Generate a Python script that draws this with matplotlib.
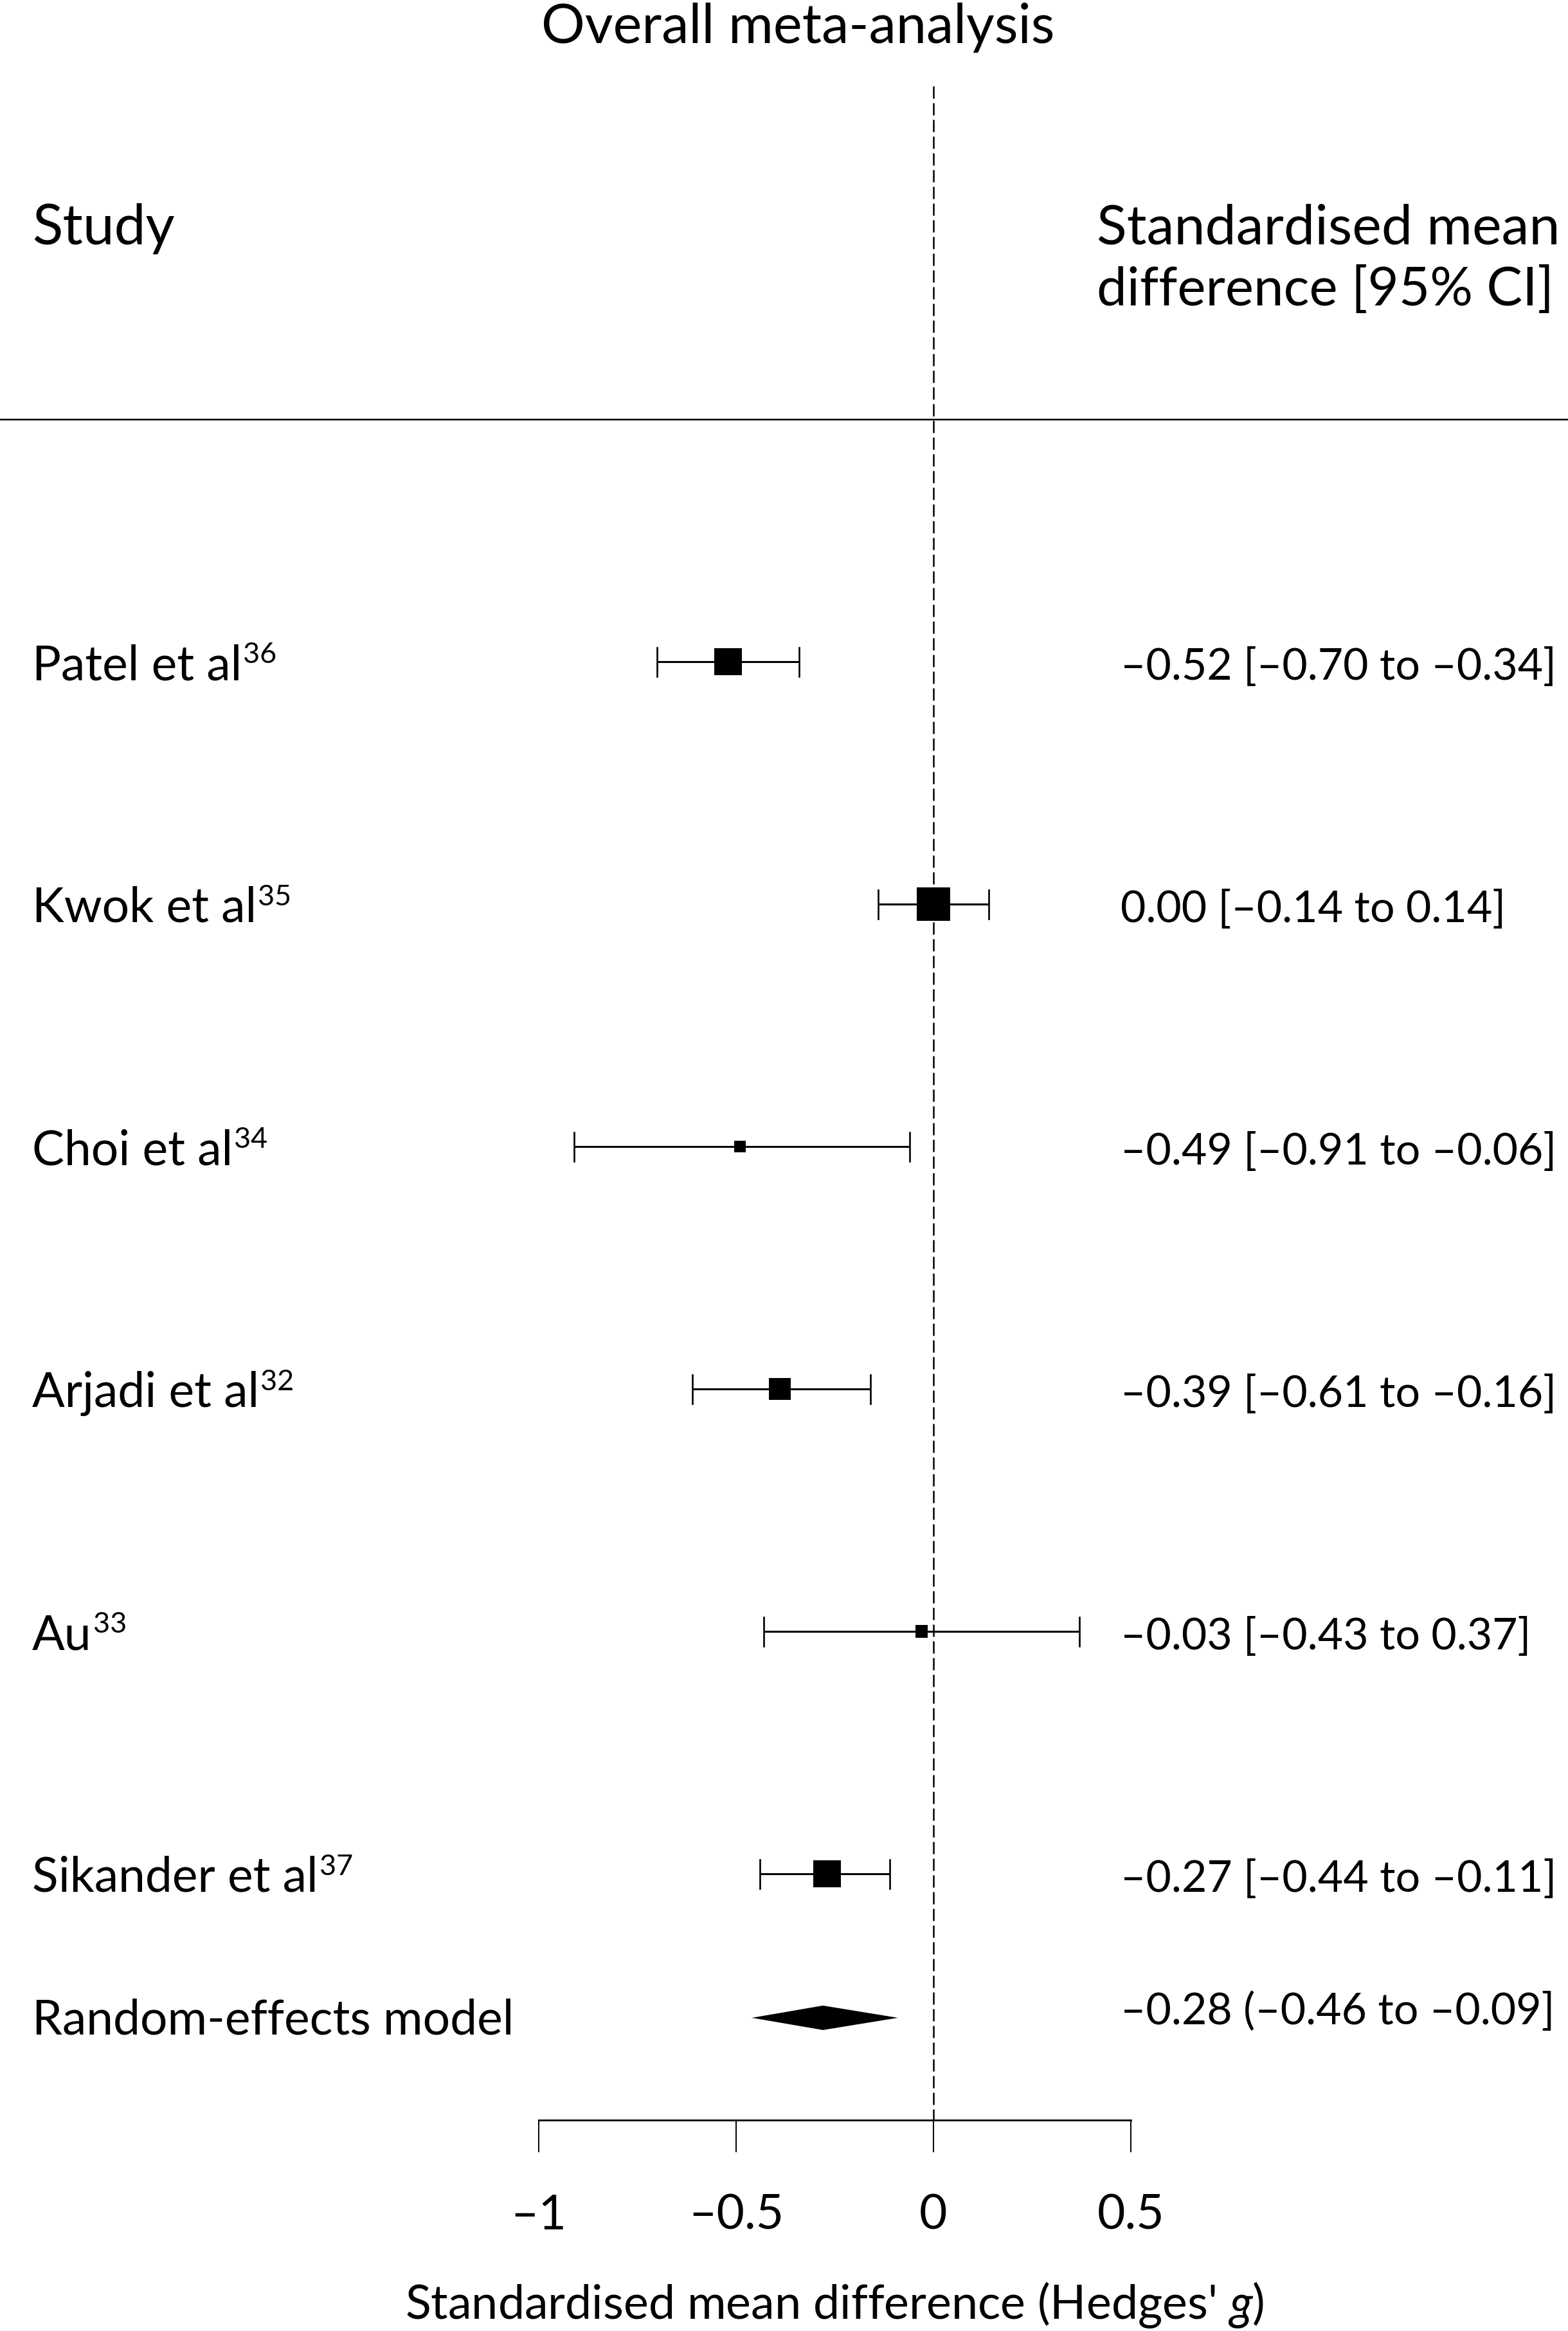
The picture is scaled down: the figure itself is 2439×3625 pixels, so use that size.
import numpy as np
import matplotlib

matplotlib.use("Agg")
import matplotlib.pyplot as plt

plt.rcParams["font.family"] = ["Lato", "DejaVu Sans"]
plt.rcParams["mathtext.fontset"] = "custom"
plt.rcParams["mathtext.rm"] = "Lato"
plt.rcParams["mathtext.it"] = "Lato:italic"

# study data
studies = ["Patel et al", "Kwok et al", "Choi et al", "Arjadi et al", "Au", "Sikander et al"]
refs = ["36", "35", "34", "32", "33", "37"]
smd = [-0.52, 0.00, -0.49, -0.39, -0.03, -0.27]
ci_low = [-0.70, -0.14, -0.91, -0.61, -0.43, -0.44]
ci_high = [-0.34, 0.14, -0.06, -0.16, 0.37, -0.11]
weights = [22.4, 32.8, 3.9, 14.0, 4.4, 22.4]

# random-effects summary
re_est = -0.28
re_low = -0.46
re_high = -0.09

xticks = [-1, -0.5, 0, 0.5]


def fmt(v):
    return f"{v:.2f}".replace("-", "\u2013")


def fmt_tick(v):
    s = f"{v:g}"
    return s.replace("-", "\u2013")


FS = 54
ROW_PX = 377.0
X_PX = 614.0

fig = plt.figure(figsize=(24.39, 36.25), dpi=100)
ax = fig.add_axes([0, 0, 1, 1])
ax.set_xlim(-1452 / X_PX, (2439 - 1452) / X_PX)
ax.set_ylim((3625 - 1029) / ROW_PX, -1029 / ROW_PX)

rows = np.arange(len(studies))
base_off = 28 / ROW_PX
cap_h = 22.5 / ROW_PX

# confidence intervals
for y, lo, hi in zip(rows, ci_low, ci_high):
    ax.plot([lo, hi], [y, y], color="black", lw=2.2, solid_capstyle="butt", zorder=3)
    ax.plot([lo, lo], [y - cap_h, y + cap_h], color="black", lw=1.9, zorder=3)
    ax.plot([hi, hi], [y - cap_h, y + cap_h], color="black", lw=1.9, zorder=3)

side_px = 52 / np.sqrt(max(weights)) * np.sqrt(np.array(weights))
ax.scatter(smd, rows, s=(side_px * 0.72) ** 2, marker="s", color="black",
           linewidths=0, zorder=4)

# summary diamond
y_re = 5.594
dh = 19 / ROW_PX
ax.fill([re_low, re_est, re_high, re_est], [y_re, y_re - dh, y_re, y_re + dh],
        color="black", lw=0, zorder=4)

# zero line
ax.plot([0, 0], [-2.374, 6.015], color="black", lw=1.8, dashes=(7.6, 2.8), zorder=2)

# header rule
ax.axhline(-1.0, color="black", lw=1.8)

x_left = -2.283
x_right = 0.474

fig.canvas.draw()
renderer = fig.canvas.get_renderer()
inv = ax.transData.inverted()

for y, name, ref, m, lo, hi in zip(rows, studies, refs, smd, ci_low, ci_high):
    t = ax.text(x_left, y + base_off, name, fontsize=FS, va="baseline", ha="left")
    bb = t.get_window_extent(renderer=renderer)
    x1 = inv.transform((bb.x1, 0))[0]
    ax.text(x1 + 2 / X_PX, y + base_off - 26 / ROW_PX, ref, fontsize=FS * 0.6,
            va="baseline", ha="left")
    ax.text(x_right, y + base_off, f"{fmt(m)} [{fmt(lo)} to {fmt(hi)}]",
            fontsize=49, va="baseline", ha="left")

ax.text(x_left, 5.663, "Random-effects model", fontsize=FS, va="baseline", ha="left")
ax.text(x_right, 5.621, f"{fmt(re_est)} ({fmt(re_low)} to {fmt(re_high)}]",
        fontsize=49, va="baseline", ha="left")

# headers
ax.text(-0.344, -2.552, "Overall meta-analysis", fontsize=61, va="baseline", ha="center")
ax.text(x_left, -1.724, "Study", fontsize=63, va="baseline", ha="left")
ax.text(0.414, -1.724, "Standardised mean", fontsize=62, va="baseline", ha="left")
ax.text(0.414, -1.469, "difference [95% CI]", fontsize=60, va="baseline", ha="left")

# x axis
for side in ["top", "left", "right"]:
    ax.spines[side].set_visible(False)
ax.spines["bottom"].set_position(("data", 6.015))
ax.spines["bottom"].set_bounds(-1, 0.5)
ax.spines["bottom"].set_linewidth(2.0)
ax.set_yticks([])
ax.set_xticks(xticks)
ax.set_xticklabels([fmt_tick(v) for v in xticks])
ax.tick_params(axis="x", direction="out", length=36, width=1.4, pad=46, labelsize=FS)

ax.text(-0.25, 6.78, "Standardised mean difference (Hedges' $g$)", fontsize=53,
        va="center", ha="center")

fig.savefig("out.png", dpi=100)
